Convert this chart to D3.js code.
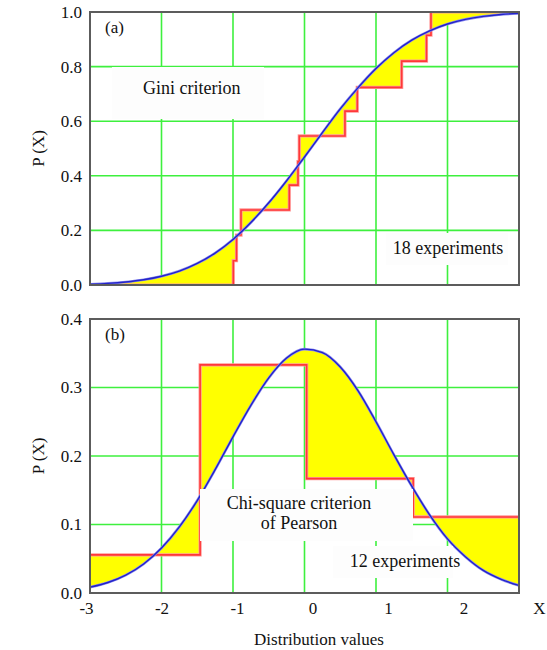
<!DOCTYPE html>
<html><head><meta charset="utf-8">
<script src="https://cdn.jsdelivr.net/npm/d3@7"></script>
<style>
body{margin:0;background:#fff}
</style>
</head><body>
<svg id="c" width="547" height="650"></svg>
<script>
// ---- data ----
const gridX = [-2, -1, 0, 1, 2];
const topTicks = [0, 0.2, 0.4, 0.6, 0.8, 1.0];
const topGridY = [0.2, 0.4, 0.6, 0.8];
const botTicks = [0, 0.1, 0.2, 0.3, 0.4];
const botGridY = [0.1, 0.2, 0.3];
const xTickLabels = [-3, -2, -1, 0, 1, 2, 3];

const curveX = [-3, -2.75, -2.5, -2.25, -2, -1.75, -1.5, -1.25, -1, -0.75, -0.5, -0.25, 0,
                0.25, 0.5, 0.75, 1, 1.25, 1.5, 1.75, 2, 2.25, 2.5, 2.75, 3];
const cdfValues = [0.003, 0.006, 0.011, 0.019, 0.032, 0.051, 0.079, 0.117, 0.167, 0.229, 0.301,
                   0.382, 0.469, 0.558, 0.645, 0.723, 0.793, 0.851, 0.897, 0.931, 0.956, 0.973,
                   0.984, 0.991, 0.995];
const pdfValues = [0.0085, 0.0153, 0.0261, 0.0424, 0.0656, 0.0965, 0.135, 0.180, 0.228, 0.274,
                   0.314, 0.343, 0.356, 0.351, 0.330, 0.295, 0.250, 0.202, 0.156, 0.114, 0.079,
                   0.053, 0.033, 0.020, 0.011];

const stepX = [-0.996, -0.951, -0.888, -0.213, -0.091, -0.073, 0.566, 0.738, 1.359, 1.706, 1.769];
const stepP = [0.089, 0.183, 0.275, 0.366, 0.452, 0.546, 0.637, 0.724, 0.820, 0.915, 1.0];

const binEdges = [-3, -1.46, 0.03, 1.52, 3];
const binHeights = [0.0556, 0.333, 0.167, 0.111];

// ---- drawing ----
const FONT = '"Liberation Serif","DejaVu Serif","Noto Serif",Tinos,FreeSerif,"Nimbus Roman","Times New Roman",Times,serif';
const svg = d3.select("#c");
const x = d3.scaleLinear().domain([-3, 3]).range([90, 519]);
const xLab = d3.scaleLinear().domain([-3, 3]).range([86, 539]);

const GRID = "#3ef03e", RED = "#ff3838", BLUE = "#2424c8", YEL = "#ffff00";

function txt(sel) { return sel.attr("font-family", FONT).style("font-family", FONT).attr("fill", "#111"); }

function panel(id, y, ticks, gridY, curveVals, stepPts, annos, letter) {
  const [yb, yt] = y.range();
  const x0 = x.range()[0], x1 = x.range()[1];
  const pts = curveX.map((v, i) => [v, curveVals[i]]);
  const defs = svg.append("defs");
  defs.append("clipPath").attr("id", id + "plot").append("rect")
    .attr("x", x0).attr("y", yt).attr("width", x1 - x0).attr("height", yb - yt);
  const aboveCurve = d3.area().x(d => x(d[0])).y0(yt - 2).y1(d => y(d[1])).curve(d3.curveMonotoneX);
  const aboveStep = d3.area().x(d => x(d[0])).y0(yt - 2).y1(d => y(d[1])).curve(d3.curveStepAfter);
  defs.append("clipPath").attr("id", id + "ac").append("path").attr("d", aboveCurve(pts));
  defs.append("clipPath").attr("id", id + "as").append("path").attr("d", aboveStep(stepPts));

  const g = svg.append("g").attr("clip-path", `url(#${id}plot)`);
  g.append("rect").attr("x", x0).attr("y", yt).attr("width", x1 - x0).attr("height", yb - yt).attr("fill", "#fff");

  g.selectAll(".gx").data(gridX).join("line")
    .attr("x1", d => x(d)).attr("x2", d => x(d)).attr("y1", yt).attr("y2", yb)
    .attr("stroke", GRID).attr("stroke-width", 1.6);
  g.selectAll(".gy").data(gridY).join("line")
    .attr("x1", x0).attr("x2", x1).attr("y1", d => y(d)).attr("y2", d => y(d))
    .attr("stroke", GRID).attr("stroke-width", 1.6);

  const stepArea = d3.area().x(d => x(d[0])).y0(yb + 2).y1(d => y(d[1])).curve(d3.curveStepAfter);
  const curveArea = d3.area().x(d => x(d[0])).y0(yb + 2).y1(d => y(d[1])).curve(d3.curveMonotoneX);
  g.append("g").attr("clip-path", `url(#${id}ac)`).append("path")
    .attr("d", stepArea(stepPts)).attr("fill", YEL);
  g.append("g").attr("clip-path", `url(#${id}as)`).append("path")
    .attr("d", curveArea(pts)).attr("fill", YEL);

  const stepLine = d3.line().x(d => x(d[0])).y(d => y(d[1])).curve(d3.curveStepAfter);
  g.append("path").attr("d", stepLine(stepPts)).attr("fill", "none")
    .attr("stroke", "#ff9a9a").attr("stroke-width", 3.2);
  g.append("path").attr("d", stepLine(stepPts)).attr("fill", "none")
    .attr("stroke", RED).attr("stroke-width", 1.6);

  const line = d3.line().x(d => x(d[0])).y(d => y(d[1])).curve(d3.curveMonotoneX);
  g.append("path").attr("d", line(pts)).attr("fill", "none")
    .attr("stroke", "#8c8cf0").attr("stroke-width", 2.6);
  g.append("path").attr("d", line(pts)).attr("fill", "none")
    .attr("stroke", BLUE).attr("stroke-width", 1.4);

  annos.forEach(a => {
    g.append("rect").attr("x", a.bx).attr("y", a.by).attr("width", a.bw).attr("height", a.bh).attr("fill", "#fdfdfd");
    a.lines.forEach((t, i) => {
      txt(g.append("text")).attr("x", a.tx).attr("y", a.ty + i * 20).attr("text-anchor", a.anchor)
        .attr("font-size", 18).text(t);
    });
  });
  txt(svg.append("text")).attr("x", 105).attr("y", yt + 21).attr("font-size", 17).text(letter);

  svg.append("rect").attr("x", x0).attr("y", yt).attr("width", x1 - x0).attr("height", yb - yt)
    .attr("fill", "none").attr("stroke", "#5c5c5c").attr("stroke-width", 2);

  const ax = svg.append("g").attr("transform", `translate(${x0},0)`)
    .call(d3.axisLeft(y).tickValues(ticks).tickFormat(d3.format(".1f")).tickSize(0).tickPadding(8));
  ax.attr("font-family", FONT);
  ax.select(".domain").remove();
  txt(ax.selectAll("text")).attr("font-size", 17);

  txt(svg.append("text")).attr("transform", `translate(44,${(yb + yt) / 2}) rotate(-90)`)
    .attr("text-anchor", "middle").attr("font-size", 17).text("P (X)");
}

const yTop = d3.scaleLinear().domain([0, 1]).range([285, 12]);
const yBot = d3.scaleLinear().domain([0, 0.4]).range([593, 319]);

const topSteps = [[-3, 0]].concat(stepX.map((v, i) => [v, stepP[i]]), [[3, stepP[stepP.length - 1]]]);
const botSteps = binEdges.map((e, i) => [e, binHeights[Math.min(i, binHeights.length - 1)]]);

panel("a", yTop, topTicks, topGridY, cdfValues, topSteps, [
  {bx: 112, by: 67, bw: 152, bh: 52, tx: 143, ty: 94, anchor: "start", lines: ["Gini criterion"]},
  {bx: 386, by: 233, bw: 122, bh: 32, tx: 448, ty: 254, anchor: "middle", lines: ["18 experiments"]}
], "(a)");

panel("b", yBot, botTicks, botGridY, pdfValues, botSteps, [
  {bx: 200, by: 489, bw: 213, bh: 52, tx: 299, ty: 509, anchor: "middle", lines: ["Chi-square criterion", "of Pearson"]},
  {bx: 333, by: 546, bw: 120, bh: 32, tx: 405, ty: 567, anchor: "middle", lines: ["12 experiments"]}
], "(b)");

const xa = svg.append("g").attr("transform", "translate(0,593)")
  .call(d3.axisBottom(xLab).tickValues(xTickLabels).tickFormat(d => d === 3 ? "X" : d3.format("d")(d).replace("−", "-")).tickSize(0).tickPadding(9));
xa.attr("font-family", FONT);
xa.select(".domain").remove();
txt(xa.selectAll("text")).attr("font-size", 17);

txt(svg.append("text")).attr("x", 319).attr("y", 645).attr("text-anchor", "middle")
  .attr("font-size", 17).text("Distribution values");
</script>
</body></html>
